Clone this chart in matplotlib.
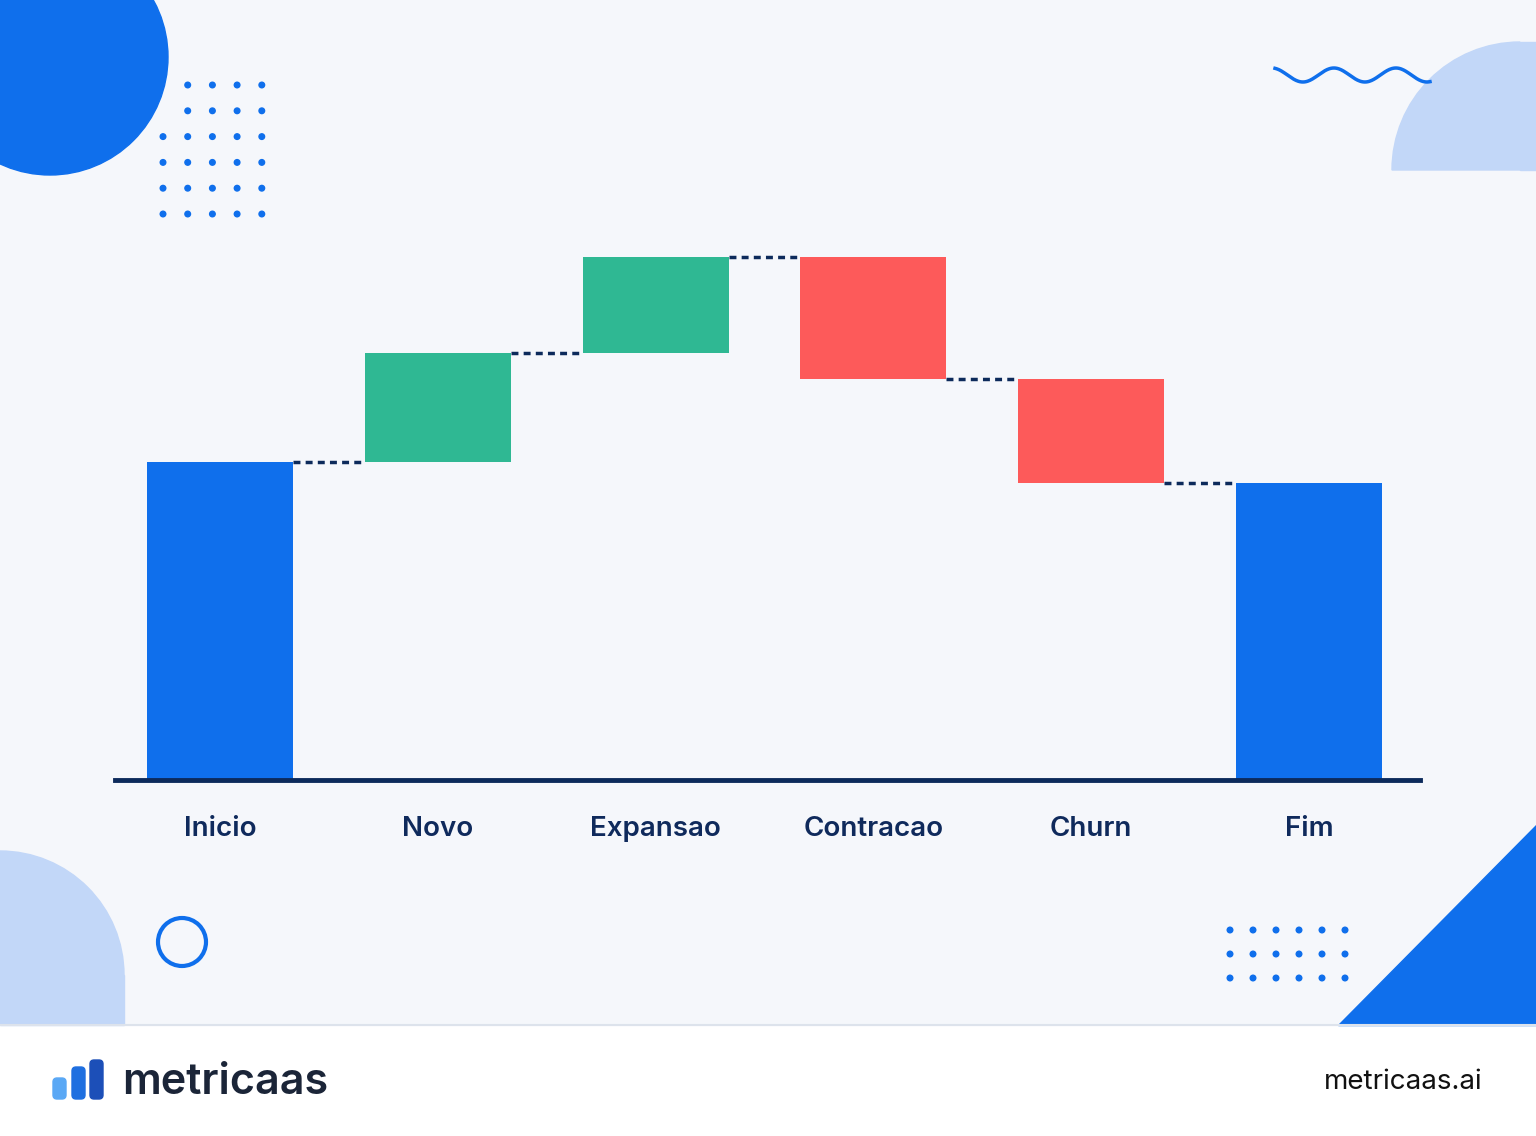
import numpy as np
import matplotlib.pyplot as plt
from matplotlib.patches import Circle, Wedge, Rectangle, Polygon, FancyBboxPatch

categories = ["Inicio", "Novo", "Expansao", "Contracao", "Churn", "Fim"]
deltas = [318, 109, 96, -122, -104, 297]
kinds = ["total", "delta", "delta", "delta", "delta", "total"]

BLUE = "#0f6fec"
GREEN = "#2fb893"
RED = "#fd5a5a"
NAVY = "#0c2a5b"
LIGHT = "#c2d7f8"
BG = "#f5f7fb"

W, H = 1536, 1136
fig = plt.figure(figsize=(W / 100, H / 100), dpi=100)
fig.patch.set_facecolor("white")

# decorations in pixel coordinates
bg = fig.add_axes([0, 0, 1, 1])
bg.set_xlim(0, W)
bg.set_ylim(H, 0)
bg.axis("off")
bg.add_patch(Rectangle((0, 0), W, 1025, color=BG, zorder=0))
bg.plot([0, W], [1025, 1025], color="#dde3ec", lw=1.5)
bg.add_patch(Circle((50, 57), 118, color=BLUE))
for r, y in enumerate(np.arange(85, 215, 25.8)):
    for c, x in enumerate(np.arange(163, 263, 24.7)):
        if r < 2 and c == 0:
            continue
        bg.add_patch(Circle((x, y), 2.8, color=BLUE))
bg.add_patch(Wedge((1520, 170), 128, 180, 270, color=LIGHT))
bg.add_patch(Rectangle((1520, 42), 16, 128, color=LIGHT))
wx = np.linspace(1275, 1430, 200)
bg.plot(wx, 75 - 7 * np.sin((wx - 1275) / 155 * 2.5 * 2 * np.pi + np.pi * 0.6), color=BLUE, lw=2.5)
bg.add_patch(Wedge((0, 975), 124, 270, 360, color=LIGHT))
bg.add_patch(Rectangle((0, 975), 124, 50, color=LIGHT))
bg.add_patch(Circle((182, 942), 24, fill=False, ec=BLUE, lw=3))
for y in [930, 954, 978]:
    for x in np.linspace(1230, 1345, 6):
        bg.add_patch(Circle((x, y), 2.8, color=BLUE))
bg.add_patch(Polygon([(1338, 1025), (1536, 1025), (1536, 825)], color=BLUE))

# footer logo
for x0, top, col in [(53, 1078, "#5aa8f5"), (72, 1067, "#1f6fe0"), (90, 1060, "#1c4fb8")]:
    bg.add_patch(FancyBboxPatch((x0, top), 13, 1099 - top, boxstyle="round,pad=0,rounding_size=4", color=col))
bg.text(122, 1082, "metricaas", fontsize=31, fontweight="semibold", color="#1b2538", va="center", family="Inter")
bg.text(1482, 1082, "metricaas.ai", fontsize=20, color="#111111", va="center", ha="right", family="Inter")

# waterfall chart
ax = fig.add_axes([115 / W, (H - 780) / H, (1420 - 115) / W, 580 / H])
ax.patch.set_alpha(0)
x = np.arange(len(categories))
run = 0
tops = []
for i, (d, k) in enumerate(zip(deltas, kinds)):
    if k == "total":
        bottom, height, col = 0, d, BLUE
        run = d
    else:
        bottom = run if d > 0 else run + d
        height = abs(d)
        col = GREEN if d > 0 else RED
        run += d
    ax.bar(x[i], height, bottom=bottom, width=0.67, color=col, zorder=2)
    tops.append(run)
for i in range(len(categories) - 1):
    ax.plot([x[i] + 0.335, x[i + 1] - 0.335], [tops[i], tops[i]], color=NAVY,
            ls=(0, (2, 1.5)), lw=2.5, zorder=3)
ax.set_xlim(-0.482, 5.51)
ax.set_ylim(0, 580)
for s in ["top", "right", "left"]:
    ax.spines[s].set_visible(False)
ax.spines["bottom"].set_color(NAVY)
ax.spines["bottom"].set_linewidth(3.5)
ax.set_yticks([])
ax.set_xticks(x)
ax.set_xticklabels(categories, fontsize=20, fontweight="semibold", color="#0f2a5c", family="Inter")
ax.tick_params(axis="x", length=0, pad=26)

fig.savefig("out.png", dpi=100, facecolor=fig.get_facecolor())
